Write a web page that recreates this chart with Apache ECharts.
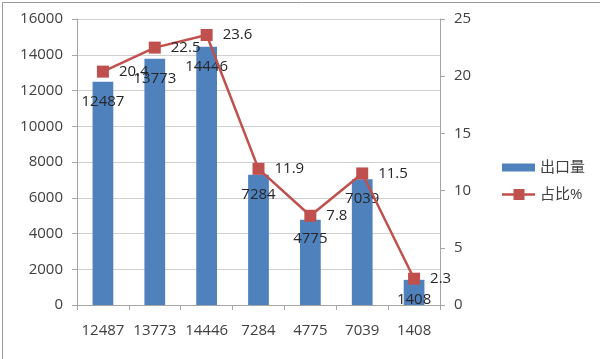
<!DOCTYPE html>
<html>
<head>
<meta charset="utf-8">
<script src="https://cdn.jsdelivr.net/npm/echarts@6/dist/echarts.min.js"></script>
<style>
html,body{margin:0;padding:0;background:#fff;}
#c{width:600px;height:359px;}
</style>
</head>
<body>
<div id="c"></div>
<script>
const categories = ['12487', '13773', '14446', '7284', '4775', '7039', '1408'];
const exportVolume = [12487, 13773, 14446, 7284, 4775, 7039, 1408];
const sharePct = [20.4, 22.5, 23.6, 11.9, 7.8, 11.5, 2.3];
const leftTicks = { min: 0, max: 16000, interval: 2000 };
const rightTicks = { min: 0, max: 25, interval: 5 };
const seriesNames = ['出口量', '占比%'];

const FONT = '"Open Sans", "Noto Sans CJK SC", sans-serif';
const TXT = '#404040';
const chart = echarts.init(document.getElementById('c'), null, { renderer: 'canvas' });
chart.setOption({
  animation: false,
  backgroundColor: '#fff',
  textStyle: { fontFamily: FONT },
  graphic: [{
    type: 'rect', left: 0, top: 0, silent: true,
    shape: { x: 0.5, y: 0.5, width: 598, height: 357 },
    style: { fill: 'none', stroke: '#9a9a9a', lineWidth: 1 }
  }],
  grid: { left: 77, right: 160, top: 19, bottom: 54, containLabel: false },
  legend: {
    orient: 'vertical', left: 497, top: 155,
    itemWidth: 33, itemHeight: 12, itemGap: 12,
    textStyle: { fontSize: 15, color: TXT, fontFamily: FONT },
    data: [
      { name: seriesNames[0], icon: 'path://M0,0L0,0M0,2H33V10H0ZM33,12L33,12' },
      { name: seriesNames[1], icon: 'path://M0,4.8H11.5V0.5H22.5V4.8H33V7.2H22.5V11.5H11.5V7.2H0ZM0,0L0,0M33,12L33,12' }
    ]
  },
  xAxis: {
    type: 'category', data: categories,
    axisLine: { lineStyle: { color: '#a6a6a6' } },
    axisTick: { show: true, alignWithLabel: false, length: 5, lineStyle: { color: '#a6a6a6' } },
    axisLabel: { interval: 0, fontSize: 15, color: TXT, margin: 18, fontFamily: FONT }
  },
  yAxis: [{
    type: 'value', min: leftTicks.min, max: leftTicks.max, interval: leftTicks.interval,
    axisLine: { show: true, lineStyle: { color: '#a6a6a6' } },
    axisTick: { show: true, length: 5, lineStyle: { color: '#a6a6a6' } },
    axisLabel: { fontSize: 15, color: TXT, margin: 14, fontFamily: FONT, formatter: v => String(v) },
    splitLine: { lineStyle: { color: '#d0d0d0', width: 1 } }
  }, {
    type: 'value', min: rightTicks.min, max: rightTicks.max, interval: rightTicks.interval,
    position: 'right',
    axisLine: { show: true, lineStyle: { color: '#a6a6a6' } },
    axisTick: { show: true, length: 5, lineStyle: { color: '#a6a6a6' } },
    axisLabel: { fontSize: 15, color: TXT, margin: 14, fontFamily: FONT },
    splitLine: { show: false }
  }],
  series: [{
    name: seriesNames[0], type: 'bar', data: exportVolume, yAxisIndex: 0,
    barWidth: '40%',
    itemStyle: { color: '#4F81BD' },
    label: { show: true, position: 'insideTop', distance: 12, fontSize: 15, color: '#262626', fontFamily: FONT }
  }, {
    name: seriesNames[1], type: 'line', data: sharePct, yAxisIndex: 1,
    symbol: 'rect', symbolSize: 12,
    lineStyle: { color: '#C0504D', width: 2.5 },
    itemStyle: { color: '#C0504D' },
    label: { show: true, position: 'right', distance: 10, fontSize: 15, color: '#262626', fontFamily: FONT },
    z: 5
  }]
});
</script>
</body>
</html>
